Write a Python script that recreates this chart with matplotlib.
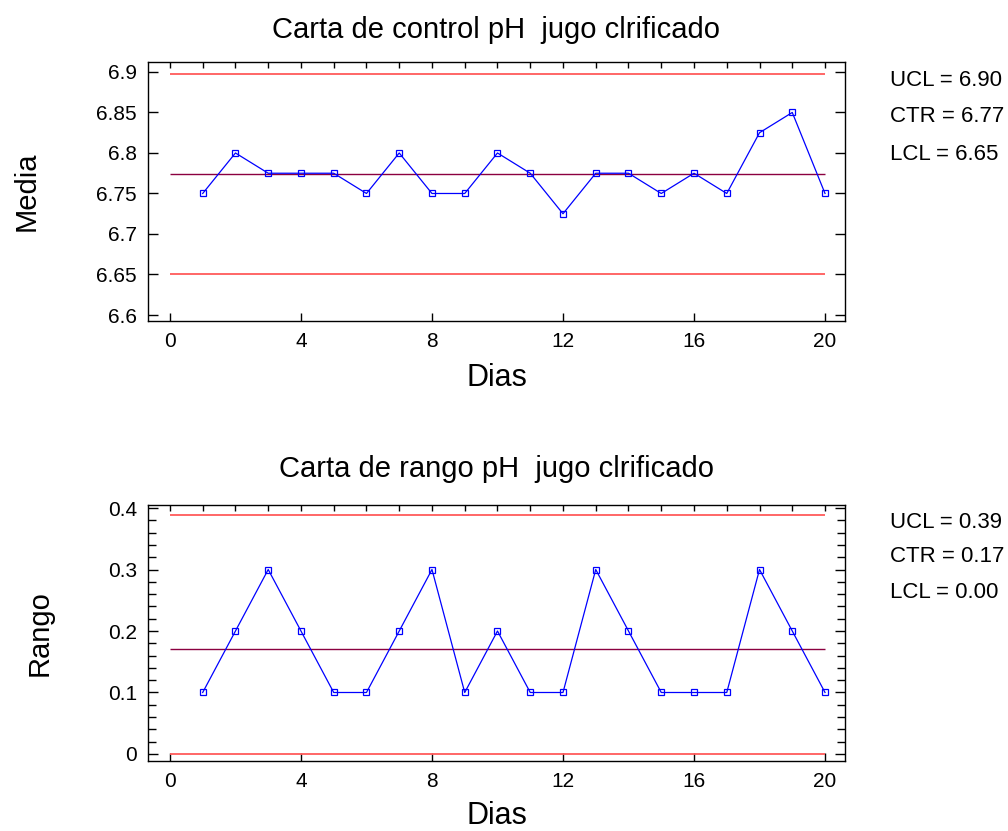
import matplotlib
matplotlib.use("Agg")
import matplotlib.pyplot as plt
from matplotlib.ticker import MultipleLocator

plt.rcParams['font.family'] = ['Liberation Sans', 'DejaVu Sans']

dias = list(range(1, 21))
medias = [6.75, 6.80, 6.775, 6.775, 6.775, 6.75, 6.80, 6.75, 6.75, 6.80,
          6.775, 6.725, 6.775, 6.775, 6.75, 6.775, 6.75, 6.825, 6.85, 6.75]
rangos = [0.1, 0.2, 0.3, 0.2, 0.1, 0.1, 0.2, 0.3, 0.1, 0.2,
          0.1, 0.1, 0.3, 0.2, 0.1, 0.1, 0.1, 0.3, 0.2, 0.1]
lim_media = {"UCL": 6.897, "CTR": 6.77375, "LCL": 6.650}
lim_rango = {"UCL": 0.388, "CTR": 0.17, "LCL": 0.0}
lab_media = ["UCL = 6.90", "CTR = 6.77", "LCL = 6.65"]
lab_rango = ["UCL = 0.39", "CTR = 0.17", "LCL = 0.00"]
yt_media = [6.6, 6.65, 6.7, 6.75, 6.8, 6.85, 6.9]
yt_media_lab = ["6.6", "6.65", "6.7", "6.75", "6.8", "6.85", "6.9"]
yt_rango = [0, 0.1, 0.2, 0.3, 0.4]
yt_rango_lab = ["0", "0.1", "0.2", "0.3", "0.4"]
xt = [0, 4, 8, 12, 16, 20]

W, H = 1008, 831
fig = plt.figure(figsize=(W/100, H/100), dpi=100)

def px_axes(l, t, r, b):
    return fig.add_axes([l/W, 1 - b/H, (r-l)/W, (b-t)/H])

ax1 = px_axes(148, 62, 845, 321)
ax2 = px_axes(148, 505, 845, 761)

def style(ax, title, ylabel, vals, lims, labs, yt, ytl, ylim, yminor,
          label_ys, ylab_x, xlab_y, tpad):
    ax.plot(dias, vals, color='#0000ff', lw=0.9, marker='s', ms=5,
            mfc='none', mec='#0000ff', mew=0.9, zorder=3)
    ax.hlines([lims["UCL"], lims["LCL"]], 0, 20, color='#ff5a5a', lw=1.3, zorder=2)
    ax.hlines([lims["CTR"]], 0, 20, color='#8b0040', lw=1.0, zorder=2)
    ax.set_xlim(-0.67, 20.61)
    ax.set_ylim(*ylim)
    ax.xaxis.remove_overlapping_locs = False
    ax.set_xticks(xt)
    ax.set_xticklabels([str(v) for v in xt])
    ax.xaxis.set_minor_locator(MultipleLocator(1))
    ax.set_yticks(yt)
    ax.set_yticklabels(ytl)
    ax.tick_params(axis='x', which='major', direction='in', length=6, width=1.0,
                   labelsize=15, bottom=True, top=False, pad=8)
    ax.tick_params(axis='x', which='minor', direction='in', length=4, width=1.0,
                   bottom=False, top=True)
    ax.tick_params(axis='y', which='major', direction='in', length=7, width=1.0,
                   labelsize=15, left=True, right=True, pad=8)
    if yminor:
        ax.yaxis.set_minor_locator(MultipleLocator(yminor))
        ax.tick_params(axis='y', which='minor', direction='in', length=6,
                       width=1.0, left=True, right=True)
    for s in ax.spines.values():
        s.set_linewidth(1.0)
    ax.set_title(title, fontsize=21, pad=tpad)
    ax.set_xlabel("Dias", fontsize=22)
    ax.xaxis.set_label_coords(0.5, xlab_y)
    ax.set_ylabel(ylabel, fontsize=21)
    ax.yaxis.set_label_coords(ylab_x, 0.5)
    for lab, yp in zip(labs, label_ys):
        fig.text(890/W, 1 - yp/H, lab, fontsize=16, va='center', ha='left')

style(ax1, "Carta de control pH  jugo clrificado", "Media", medias, lim_media,
      lab_media, yt_media, yt_media_lab, (6.5926, 6.9123), None,
      [81, 117, 154], -0.1535, -0.162, 17.5)
style(ax2, "Carta de rango pH  jugo clrificado", "Rango", rangos, lim_rango,
      lab_rango, yt_rango, yt_rango_lab, (-0.0114, 0.4049), 0.02,
      [523, 557, 593], -0.1349, -0.156, 20)

fig.savefig("out.png", dpi=100)
